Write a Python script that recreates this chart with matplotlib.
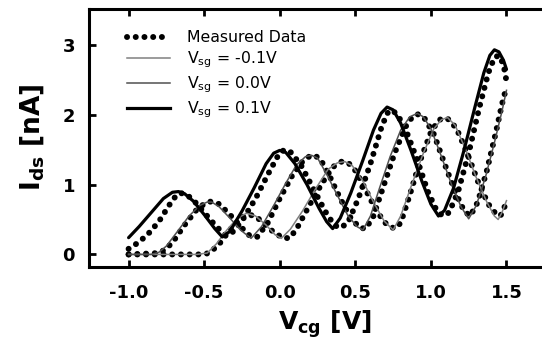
import matplotlib
matplotlib.use("Agg")
import matplotlib.pyplot as plt
from matplotlib.lines import Line2D

plt.rcParams['font.family'] = ['DejaVu Sans']
plt.rcParams['mathtext.fontset'] = 'dejavusans'

# --- data ---
# Simulation V_sg = 0.1 V (thick solid)
s_v = [-1.00, -0.93, -0.85, -0.77, -0.71, -0.67, -0.63, -0.57, -0.50, -0.43, -0.38, -0.33, -0.25, -0.17,
       -0.09, -0.04, 0.00, 0.04, 0.10, 0.18, 0.26, 0.31, 0.35, 0.40, 0.47, 0.55, 0.62, 0.67, 0.71, 0.75,
       0.80, 0.87, 0.94, 1.00, 1.05, 1.09, 1.15, 1.22, 1.29, 1.35, 1.39, 1.42, 1.45, 1.48, 1.50]
s_i = [0.24, 0.40, 0.60, 0.80, 0.89, 0.90, 0.87, 0.76, 0.57, 0.37, 0.25, 0.33, 0.62, 0.95,
       1.30, 1.45, 1.49, 1.46, 1.30, 1.00, 0.66, 0.47, 0.37, 0.52, 0.88, 1.35, 1.78, 2.02, 2.11, 2.07,
       1.88, 1.48, 1.05, 0.72, 0.55, 0.63, 0.95, 1.50, 2.10, 2.60, 2.85, 2.93, 2.90, 2.78, 2.65]

# Simulation V_sg = 0.0 V
a_v = [-1.00, -0.85, -0.80, -0.75, -0.68, -0.60, -0.53, -0.48, -0.45, -0.40, -0.33, -0.26, -0.19, -0.12,
       -0.04, 0.04, 0.11, 0.17, 0.21, 0.25, 0.31, 0.38, 0.45, 0.51, 0.55, 0.60, 0.66, 0.73, 0.80, 0.86,
       0.91, 0.95, 1.00, 1.07, 1.14, 1.20, 1.25, 1.30, 1.36, 1.42, 1.47, 1.50]
a_i = [0.00, 0.00, 0.03, 0.12, 0.32, 0.55, 0.70, 0.75, 0.75, 0.68, 0.52, 0.35, 0.23, 0.40,
       0.70, 1.02, 1.28, 1.40, 1.42, 1.38, 1.15, 0.85, 0.56, 0.40, 0.35, 0.55, 0.95, 1.40, 1.78, 1.97,
       2.02, 1.97, 1.80, 1.40, 0.98, 0.68, 0.51, 0.70, 1.10, 1.60, 2.05, 2.35]

# Simulation V_sg = -0.1 V
b_v = [-1.00, -0.55, -0.48, -0.42, -0.35, -0.28, -0.22, -0.16, -0.09, -0.03, 0.01, 0.07, 0.15, 0.24,
       0.32, 0.38, 0.43, 0.48, 0.55, 0.62, 0.69, 0.75, 0.80, 0.87, 0.95, 1.02, 1.07, 1.11, 1.16, 1.23,
       1.30, 1.37, 1.42, 1.445, 1.47, 1.50]
b_i = [0.00, 0.00, 0.02, 0.15, 0.35, 0.52, 0.59, 0.55, 0.42, 0.28, 0.23, 0.36, 0.62, 0.95,
       1.22, 1.31, 1.33, 1.27, 1.05, 0.75, 0.48, 0.35, 0.55, 0.98, 1.45, 1.80, 1.93, 1.96, 1.85, 1.50,
       1.10, 0.75, 0.55, 0.50, 0.60, 0.77]

# Measured data (three sweeps)
ms_v = [-1.00, -0.95, -0.88, -0.80, -0.73, -0.68, -0.64, -0.58, -0.50, -0.42, -0.36, -0.32, -0.25, -0.16,
        -0.07, -0.01, 0.03, 0.07, 0.14, 0.22, 0.30, 0.36, 0.40, 0.45, 0.52, 0.60, 0.67, 0.71, 0.74, 0.78,
        0.84, 0.91, 0.98, 1.04, 1.08, 1.12, 1.18, 1.25, 1.32, 1.38, 1.42, 1.45, 1.48, 1.50]
ms_i = [0.08, 0.15, 0.27, 0.47, 0.71, 0.86, 0.88, 0.80, 0.60, 0.40, 0.28, 0.30, 0.48, 0.80,
        1.18, 1.42, 1.50, 1.47, 1.28, 0.95, 0.62, 0.42, 0.38, 0.45, 0.80, 1.30, 1.80, 2.02, 2.07, 2.00,
        1.75, 1.35, 0.90, 0.62, 0.55, 0.60, 0.90, 1.45, 2.10, 2.60, 2.82, 2.85, 2.72, 2.48]
ma_v = [-1.00, -0.80, -0.75, -0.70, -0.63, -0.55, -0.49, -0.45, -0.40, -0.33, -0.26, -0.20, -0.15, -0.08,
        0.00, 0.08, 0.15, 0.20, 0.23, 0.27, 0.33, 0.40, 0.47, 0.53, 0.57, 0.62, 0.69, 0.76, 0.83, 0.88,
        0.92, 0.96, 1.02, 1.09, 1.16, 1.22, 1.26, 1.31, 1.37, 1.43, 1.47, 1.50]
ma_i = [0.00, 0.02, 0.08, 0.20, 0.42, 0.64, 0.74, 0.76, 0.72, 0.57, 0.40, 0.27, 0.25, 0.45,
        0.80, 1.12, 1.33, 1.41, 1.42, 1.36, 1.12, 0.80, 0.52, 0.38, 0.37, 0.55, 1.00, 1.45, 1.82, 1.98,
        2.01, 1.94, 1.72, 1.30, 0.90, 0.62, 0.55, 0.75, 1.20, 1.75, 2.15, 2.40]
mb_v = [-1.00, -0.50, -0.46, -0.40, -0.33, -0.26, -0.21, -0.16, -0.10, -0.03, 0.03, 0.07, 0.12, 0.20,
        0.28, 0.35, 0.41, 0.45, 0.50, 0.57, 0.64, 0.71, 0.76, 0.80, 0.86, 0.93, 1.00, 1.05, 1.09, 1.12,
        1.17, 1.24, 1.31, 1.38, 1.43, 1.46, 1.48, 1.50]
mb_i = [0.00, 0.00, 0.03, 0.15, 0.35, 0.52, 0.57, 0.55, 0.43, 0.30, 0.23, 0.24, 0.40, 0.72,
        1.02, 1.25, 1.33, 1.32, 1.20, 0.92, 0.62, 0.42, 0.37, 0.45, 0.85, 1.35, 1.75, 1.92, 1.96, 1.93,
        1.80, 1.45, 1.05, 0.72, 0.58, 0.55, 0.65, 0.74]

x_ticks = [-1.0, -0.5, 0.0, 0.5, 1.0, 1.5]
x_ticklabels = ['-1.0', '-0.5', '0.0', '0.5', '1.0', '1.5']
y_ticks = [0, 1, 2, 3]
y_ticklabels = ['0', '1', '2', '3']
legend_labels = ['Measured Data', r'V$_{\mathregular{sg}}$ = -0.1V',
                 r'V$_{\mathregular{sg}}$ = 0.0V', r'V$_{\mathregular{sg}}$ = 0.1V']

W, H = 542, 346
fig = plt.figure(figsize=(W / 100, H / 100), dpi=100)
ax = fig.add_axes([89 / W, 1 - 267 / H, (560 - 89) / W, (267 - 8.6) / H])

dot_style = dict(color='black', linewidth=4.3, linestyle=(0, (0.01, 1.45)),
                 dash_capstyle='round', solid_capstyle='round')
for v, i in [(ma_v, ma_i), (mb_v, mb_i), (ms_v, ms_i)]:
    ax.plot(v, i, **dot_style)

ax.plot(b_v, b_i, color='#808080', linewidth=1.1)
ax.plot(a_v, a_i, color='#505050', linewidth=1.1)
ax.plot(s_v, s_i, color='black', linewidth=2.3, solid_capstyle='round')

ax.set_xlim(-1.262, 1.854)
ax.set_ylim(-0.18, 3.52)
ax.set_xticks(x_ticks)
ax.set_xticklabels(x_ticklabels)
ax.set_yticks(y_ticks)
ax.set_yticklabels(y_ticklabels)

for sp in ['left', 'bottom', 'top']:
    ax.spines[sp].set_linewidth(2.2)
ax.spines['right'].set_visible(False)

ax.tick_params(axis='x', direction='in', length=5, width=2, top=True, pad=12, labelsize=13)
ax.tick_params(axis='y', direction='in', length=5, width=2, pad=10, labelsize=13)
for lab in ax.get_xticklabels() + ax.get_yticklabels():
    lab.set_fontweight('bold')

ax.set_xlabel(r'V$_{\mathbf{cg}}$ [V]', fontsize=18, fontweight='bold', labelpad=5)
ax.set_ylabel(r'I$_{\mathbf{ds}}$ [nA]', fontsize=19, fontweight='bold', labelpad=12)

handles = [Line2D([], [], **dot_style),
           Line2D([], [], color='#808080', linewidth=1.1),
           Line2D([], [], color='#505050', linewidth=1.1),
           Line2D([], [], color='black', linewidth=2.3)]
leg = ax.legend(handles, legend_labels, loc='upper left', bbox_to_anchor=(0.068, 0.94),
                frameon=False, fontsize=11.3, handlelength=2.7, handletextpad=1.1,
                labelspacing=0.28, borderaxespad=0.0)

fig.savefig('out.png', dpi=100)
